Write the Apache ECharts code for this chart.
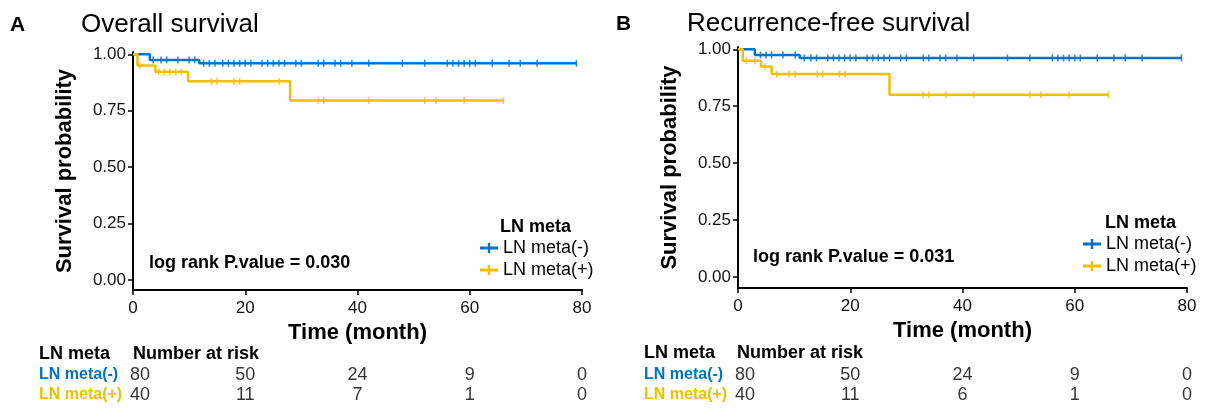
<!DOCTYPE html>
<html>
<head>
<meta charset="utf-8">
<script src="https://cdn.jsdelivr.net/npm/echarts@6/dist/echarts.min.js"></script>
<style>
  html, body { margin: 0; padding: 0; background: #fff; }
  #chart { width: 1206px; height: 408px; }
</style>
</head>
<body>
<div id="chart"></div>
<script>
const FONT = '"Liberation Sans", Arial, Helvetica, sans-serif'
const BLUE = '#0073C2'
const YELLOW = '#EFC000'

const groups = ['LN meta(-)', 'LN meta(+)']
const xTicks = [0, 20, 40, 60, 80]
const yTicks = [0, 0.25, 0.5, 0.75, 1]
const riskTimes = [0, 20, 40, 60, 80]

// A: overall survival
const osNegTime = [0, 3, 11.8]
const osNegSurv = [1, 0.975, 0.96]
const osNegEnd = 79
const osNegCensor = [3.6, 5, 6, 8, 10, 11, 12.6, 13.6, 14.6, 16, 17, 18, 19, 20, 21, 23, 24, 25, 26, 27,
  29, 30, 33, 34, 36, 37, 39, 42, 48, 52, 56, 57, 58, 59, 60, 61, 64, 67, 69, 72, 79]
const osPosTime = [0, 0.8, 4.0, 9.8, 28.0]
const osPosSurv = [1, 0.95, 0.922, 0.88, 0.795]
const osPosEnd = 66
const osPosCensor = [1.2, 4.6, 5.6, 6.6, 7.6, 8.6, 14, 15, 18, 19, 26, 33, 34, 42, 52, 54, 59, 66]
const osRiskNeg = [80, 50, 24, 9, 0]
const osRiskPos = [40, 11, 7, 1, 0]
const osPValue = 'log rank P.value = 0.030'

// B: recurrence-free survival
const rfsNegTime = [0, 3.0, 11.0]
const rfsNegSurv = [1, 0.975, 0.962]
const rfsNegEnd = 79
const rfsNegCensor = [4, 5, 6, 8, 10.2, 11.8, 13, 14, 16, 17, 18, 19, 20, 21, 23, 24, 25, 26, 27,
  29, 30, 33, 34, 36, 37, 39, 42, 48, 52, 56, 57, 58, 59, 60, 61, 64, 67, 69, 72, 79]
const rfsPosTime = [0, 0.85, 4.1, 6.0, 27.0]
const rfsPosSurv = [1, 0.95, 0.924, 0.891, 0.80]
const rfsPosEnd = 66
const rfsPosCensor = [1.5, 3, 4.8, 6.9, 9.1, 10.2, 14.1, 15.1, 18.1, 19.1, 33, 34, 37, 42, 52, 54, 59, 66]
const rfsRiskNeg = [80, 50, 24, 9, 0]
const rfsRiskPos = [40, 11, 6, 1, 0]
const rfsPValue = 'log rank P.value = 0.031'

const PLUS = 'path://M0,3.6h18v2.8h-18z M7.8,0h2.4v10h-2.4z'

function stepData(times, surv, end) {
  const d = times.map((t, i) => [t, surv[i]])
  d.push([end, surv[surv.length - 1]])
  return d
}

function survAt(times, surv, t) {
  let s = surv[0]
  for (let i = 0; i < times.length; i++) {
    if (times[i] <= t) s = surv[i]
  }
  return s
}

function censorData(times, surv, cens) {
  return cens.map(t => [t, survAt(times, surv, t)])
}

function riskData(neg, pos) {
  const d = []
  riskTimes.forEach((t, i) => {
    const off = i === 0 ? [7, 0] : [0, 0]
    d.push({ value: [t, groups[0], neg[i]], label: { offset: off } })
    d.push({ value: [t, groups[1], pos[i]], label: { offset: off } })
  })
  return d
}

function curveSeries(name, color, data, idx) {
  return {
    name: name,
    type: 'line',
    step: 'end',
    xAxisIndex: idx,
    yAxisIndex: idx,
    data: data,
    showSymbol: false,
    lineStyle: { color: color, width: 2.5 },
    itemStyle: { color: color },
    silent: true
  }
}

function censorSeries(color, data, idx) {
  return {
    name: 'censor',
    type: 'scatter',
    xAxisIndex: idx,
    yAxisIndex: idx,
    data: data,
    symbol: 'rect',
    symbolSize: [1.6, 7],
    itemStyle: { color: color },
    silent: true
  }
}

function riskSeries(data, idx) {
  return {
    name: 'risk',
    type: 'scatter',
    xAxisIndex: idx,
    yAxisIndex: idx,
    data: data,
    symbolSize: 0,
    label: {
      show: true,
      position: 'inside',
      formatter: p => String(p.value[2]),
      fontSize: 18,
      fontFamily: FONT,
      color: '#000'
    },
    silent: true
  }
}

function plotX(idx) {
  return {
    gridIndex: idx,
    type: 'value',
    min: 0,
    max: 80,
    interval: 20,
    axisLine: { onZero: false, lineStyle: { color: '#000', width: 2 } },
    axisTick: { length: 5, lineStyle: { color: '#000', width: 1.5 } },
    axisLabel: { fontSize: 17, color: '#111', fontFamily: FONT, margin: 10 },
    splitLine: { show: false },
    name: 'Time (month)',
    nameLocation: 'middle',
    nameGap: 20,
    nameTextStyle: { fontSize: 22, fontWeight: 'bold', color: '#000', fontFamily: FONT }
  }
}

function plotY(idx, min) {
  return {
    gridIndex: idx,
    type: 'value',
    min: min,
    max: 1.01,
    axisLine: { show: true, lineStyle: { color: '#000', width: 2 } },
    axisTick: { show: true, length: 5, customValues: yTicks, lineStyle: { color: '#000', width: 1.5 } },
    axisLabel: {
      customValues: yTicks,
      formatter: v => v.toFixed(2),
      fontSize: 17,
      color: '#111',
      fontFamily: FONT,
      margin: 7
    },
    splitLine: { show: false },
    name: 'Survival probability',
    nameLocation: 'middle',
    nameRotate: 90,
    nameGap: 57,
    nameTextStyle: { fontSize: 22, fontWeight: 'bold', color: '#000', fontFamily: FONT }
  }
}

function riskX(idx) {
  return { gridIndex: idx, type: 'value', min: 0, max: 80, show: false }
}

function riskY(idx) {
  return {
    gridIndex: idx,
    type: 'category',
    data: groups,
    inverse: true,
    axisLine: { show: false },
    axisTick: { show: false },
    axisLabel: {
      align: 'left',
      margin: 94,
      formatter: (v, i) => '{g' + i + '|' + v + '}',
      rich: {
        g0: { color: BLUE, fontWeight: 'bold', fontSize: 16, fontFamily: FONT },
        g1: { color: YELLOW, fontWeight: 'bold', fontSize: 16, fontFamily: FONT }
      }
    }
  }
}

function legendAt(left, top) {
  return {
    left: left,
    top: top,
    orient: 'vertical',
    padding: 0,
    itemGap: 2,
    itemWidth: 18,
    itemHeight: 10,
    selectedMode: false,
    data: groups.map(n => ({ name: n, icon: PLUS })),
    textStyle: { fontSize: 18, color: '#000', fontFamily: FONT, lineHeight: 20 }
  }
}

function txt(x, y, text, size, bold, color) {
  return {
    type: 'text',
    x: x,
    y: y,
    silent: true,
    style: {
      text: text,
      fontSize: size,
      fontWeight: bold ? 'bold' : 'normal',
      fontFamily: FONT,
      fill: color || '#000',
      verticalAlign: 'middle',
      align: 'left'
    }
  }
}

const chart = echarts.init(document.getElementById('chart'))

chart.setOption({
  backgroundColor: '#fff',
  animation: false,
  grid: [
    { left: 133, top: 52, width: 449, height: 238 },
    { left: 738, top: 47, width: 449, height: 241 },
    { left: 133, top: 365, width: 449, height: 40 },
    { left: 738, top: 365, width: 449, height: 40 }
  ],
  xAxis: [plotX(0), plotX(1), riskX(2), riskX(3)],
  yAxis: [plotY(0, -0.044), plotY(1, -0.048), riskY(2), riskY(3)],
  legend: [legendAt(480, 238), legendAt(1083, 234)],
  series: [
    curveSeries(groups[0], BLUE, stepData(osNegTime, osNegSurv, osNegEnd), 0),
    curveSeries(groups[1], YELLOW, stepData(osPosTime, osPosSurv, osPosEnd), 0),
    censorSeries(BLUE, censorData(osNegTime, osNegSurv, osNegCensor), 0),
    censorSeries(YELLOW, censorData(osPosTime, osPosSurv, osPosCensor), 0),
    curveSeries(groups[0], BLUE, stepData(rfsNegTime, rfsNegSurv, rfsNegEnd), 1),
    curveSeries(groups[1], YELLOW, stepData(rfsPosTime, rfsPosSurv, rfsPosEnd), 1),
    censorSeries(BLUE, censorData(rfsNegTime, rfsNegSurv, rfsNegCensor), 1),
    censorSeries(YELLOW, censorData(rfsPosTime, rfsPosSurv, rfsPosCensor), 1),
    riskSeries(riskData(osRiskNeg, osRiskPos), 2),
    riskSeries(riskData(rfsRiskNeg, rfsRiskPos), 3)
  ],
  graphic: [
    txt(10, 25, 'A', 21, true),
    txt(81, 25, 'Overall survival', 26, false),
    txt(616, 24, 'B', 21, true),
    txt(687, 24, 'Recurrence-free survival', 26, false),
    txt(500, 227, 'LN meta', 18, true),
    txt(1105, 223, 'LN meta', 18, true),
    txt(149, 263, osPValue, 18, true),
    txt(753, 257, rfsPValue, 18, true),
    txt(39, 354, 'LN meta', 18, true),
    txt(133, 354, 'Number at risk', 18, true),
    txt(644, 353, 'LN meta', 18, true),
    txt(737, 353, 'Number at risk', 18, true)
  ]
})
</script>
</body>
</html>
